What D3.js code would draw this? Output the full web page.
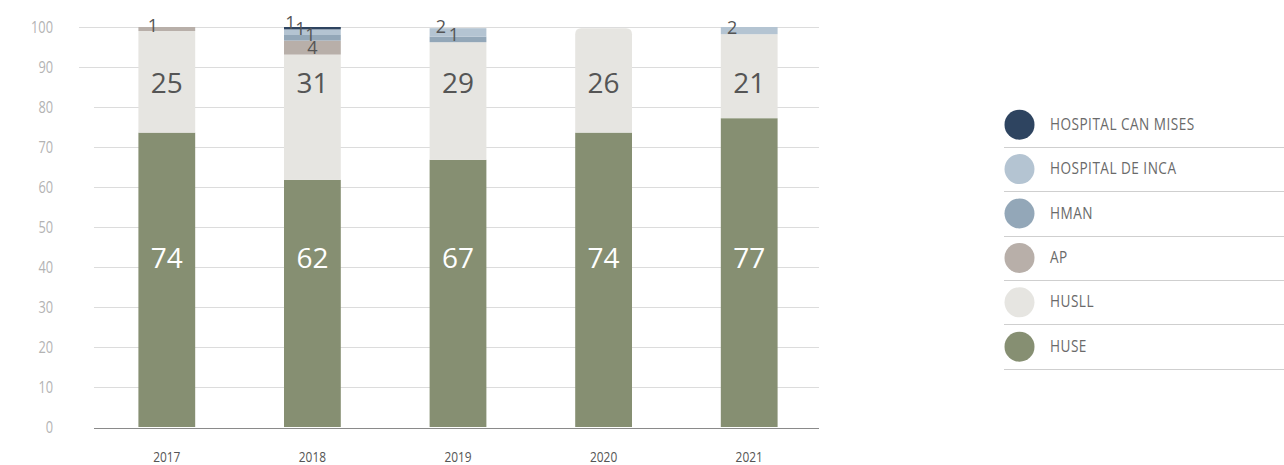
<!DOCTYPE html>
<html><head><meta charset="utf-8">
<script src="https://cdn.jsdelivr.net/npm/d3@7"></script>
<style>
html,body{margin:0;padding:0;background:#fff;}
svg{display:block;}
.cond{font-family:"Open Sans","Noto Sans",sans-serif;}
.num{font-family:"Open Sans","Noto Sans",sans-serif;}
</style></head>
<body>
<svg id="chart" width="1284" height="465"></svg>
<script>
// ---- data ----
const years = ["2017","2018","2019","2020","2021"];
const series = ["HUSE","HUSLL","AP","HMAN","HOSPITAL DE INCA","HOSPITAL CAN MISES"];
const HUSE  = [73.6, 61.8, 66.8, 73.6, 77.2];
const HUSLL = [25.4, 31.3, 29.4, 26.1, 21.0];
const AP    = [1.0, 3.5, 0, 0, 0];
const HMAN  = [0, 1.4, 1.4, 0, 0];
const INCA  = [0, 1.4, 2.1, 0, 1.8];
const CANMISES = [0, 0.6, 0, 0, 0];
const yTicks = [0,10,20,30,40,50,60,70,80,90,100];
const legendOrder = ["HOSPITAL CAN MISES","HOSPITAL DE INCA","HMAN","AP","HUSLL","HUSE"];

// ---- styles / layout ----
const colors = {
  "HUSE":"#868f72","HUSLL":"#e6e5e1","AP":"#b8afa9",
  "HMAN":"#93a7b8","HOSPITAL DE INCA":"#b4c4d2","HOSPITAL CAN MISES":"#2e4460"
};
const valuesBySeries = {
  "HUSE":HUSE,"HUSLL":HUSLL,"AP":AP,"HMAN":HMAN,
  "HOSPITAL DE INCA":INCA,"HOSPITAL CAN MISES":CANMISES
};
const bigLabelLevel = {"HUSE":39.8,"HUSLL":83.6};
const bigLabelColor = {"HUSE":"#ffffff","HUSLL":"#555555"};
const nudges = {
  "2017|AP":[-14,1],
  "2018|HOSPITAL CAN MISES":[-22,0],
  "2018|HOSPITAL DE INCA":[-12,0],
  "2018|HMAN":[-2,0],
  "2018|AP":[0,-1],
  "2019|HOSPITAL DE INCA":[-17,-4],
  "2019|HMAN":[-4,-1],
  "2021|HOSPITAL DE INCA":[-17,0]
};

const svg = d3.select("#chart");
const x = d3.scaleBand().domain(years).range([94,822]).paddingInner(0.61).paddingOuter(0.305);
const y = d3.scaleLinear().domain([0,100]).range([427,27]);

// condensed text helper
function condText(parent, tx, ty, str, opts) {
  const g = parent.append("g").attr("transform", `translate(${tx},${ty}) scale(${opts.sx},1)`);
  const t = g.append("text").attr("class","cond").attr("x",0).attr("y",0)
    .attr("font-size",opts.size).attr("fill",opts.fill)
    .attr("text-anchor",opts.anchor||"start")
    .attr("dominant-baseline",opts.baseline||"auto")
    .text(str);
  if (opts.ls) t.attr("letter-spacing",opts.ls);
  return t;
}

// gridlines
const grid = svg.append("g");
grid.selectAll("line").data(yTicks.filter(d=>d>0)).join("line")
  .attr("x1", d => d>=90 ? 79 : 94).attr("x2", 819)
  .attr("y1", d => Math.round(y(d))+0.5).attr("y2", d => Math.round(y(d))+0.5)
  .attr("stroke","#dcdcdc").attr("stroke-width",1);

// y tick labels
const yl = svg.append("g");
yTicks.forEach(d => condText(yl, 53, y(d)+1.5, d, {sx:0.8,size:16,fill:"#b3b3b3",anchor:"end",baseline:"middle"}));

// stack
const rows = years.map((yr,i)=>{ const r={year:yr}; series.forEach(s=>r[s]=valuesBySeries[s][i]); return r; });
const stack = d3.stack().keys(series)(rows);

const bw = x.bandwidth();
const barG = svg.append("g");
stack.forEach(layer=>{
  const key = layer.key;
  layer.forEach(seg=>{
    const yr = seg.data.year;
    const v = seg[1]-seg[0];
    if (v<=0) return;
    const x0 = x(yr), y0 = y(seg[1]), h = y(seg[0]) - y(seg[1]);
    const idx = series.indexOf(key);
    const isTop = series.slice(idx+1).every(s => seg.data[s]===0);
    if (isTop && h > 30) {
      const r = 6;
      const p = d3.path();
      p.moveTo(x0, y0+h); p.lineTo(x0, y0+r);
      p.quadraticCurveTo(x0, y0, x0+r, y0);
      p.lineTo(x0+bw-r, y0); p.quadraticCurveTo(x0+bw, y0, x0+bw, y0+r);
      p.lineTo(x0+bw, y0+h); p.closePath();
      barG.append("path").attr("d", p.toString()).attr("fill", colors[key]);
    } else {
      barG.append("rect").attr("x",x0).attr("y",y0).attr("width",bw).attr("height",h)
        .attr("fill",colors[key]);
    }
  });
});

// baseline axis
svg.append("line").attr("x1",94).attr("x2",819)
  .attr("y1",y(0)+1.5).attr("y2",y(0)+1.5).attr("stroke","#8a8a8a").attr("stroke-width",1.2);

// x labels
const xl = svg.append("g");
years.forEach(d => condText(xl, x(d)+bw/2, 462, d, {sx:0.85,size:14,fill:"#555",anchor:"middle"}));

// value labels
const labG = svg.append("g");
stack.forEach(layer=>{
  const key = layer.key;
  layer.forEach(seg=>{
    const yr = seg.data.year;
    const v = seg[1]-seg[0];
    if (v<=0) return;
    const cx = x(yr)+bw/2;
    const txt = Math.round(v);
    if (bigLabelLevel[key] !== undefined) {
      labG.append("text").attr("class","num")
        .attr("x",cx).attr("y",y(bigLabelLevel[key]))
        .attr("text-anchor","middle").attr("font-size",28)
        .attr("fill",bigLabelColor[key]).text(txt);
    } else {
      const n = nudges[yr+"|"+key] || [0,0];
      labG.append("text").attr("class","num")
        .attr("x",cx+n[0]).attr("y",y(seg[0])+n[1])
        .attr("text-anchor","middle").attr("font-size",18)
        .attr("fill","#555").text(txt);
    }
  });
});

// legend
const leg = svg.append("g");
const legY = d3.scalePoint().domain(legendOrder).range([124.7,346.7]);
legendOrder.forEach(s=>{
  const cy = legY(s);
  leg.append("circle").attr("cx",1019.5).attr("cy",cy).attr("r",15).attr("fill",colors[s]);
  condText(leg, 1050, cy+0.5, s, {sx:0.8,size:17,fill:"#6a6a6a",baseline:"middle",ls:0.6});
  leg.append("line").attr("x1",1004).attr("x2",1284)
    .attr("y1",Math.round(cy+22)+0.5).attr("y2",Math.round(cy+22)+0.5)
    .attr("stroke","#cfcfcf").attr("stroke-width",1);
});
</script>
</body></html>
